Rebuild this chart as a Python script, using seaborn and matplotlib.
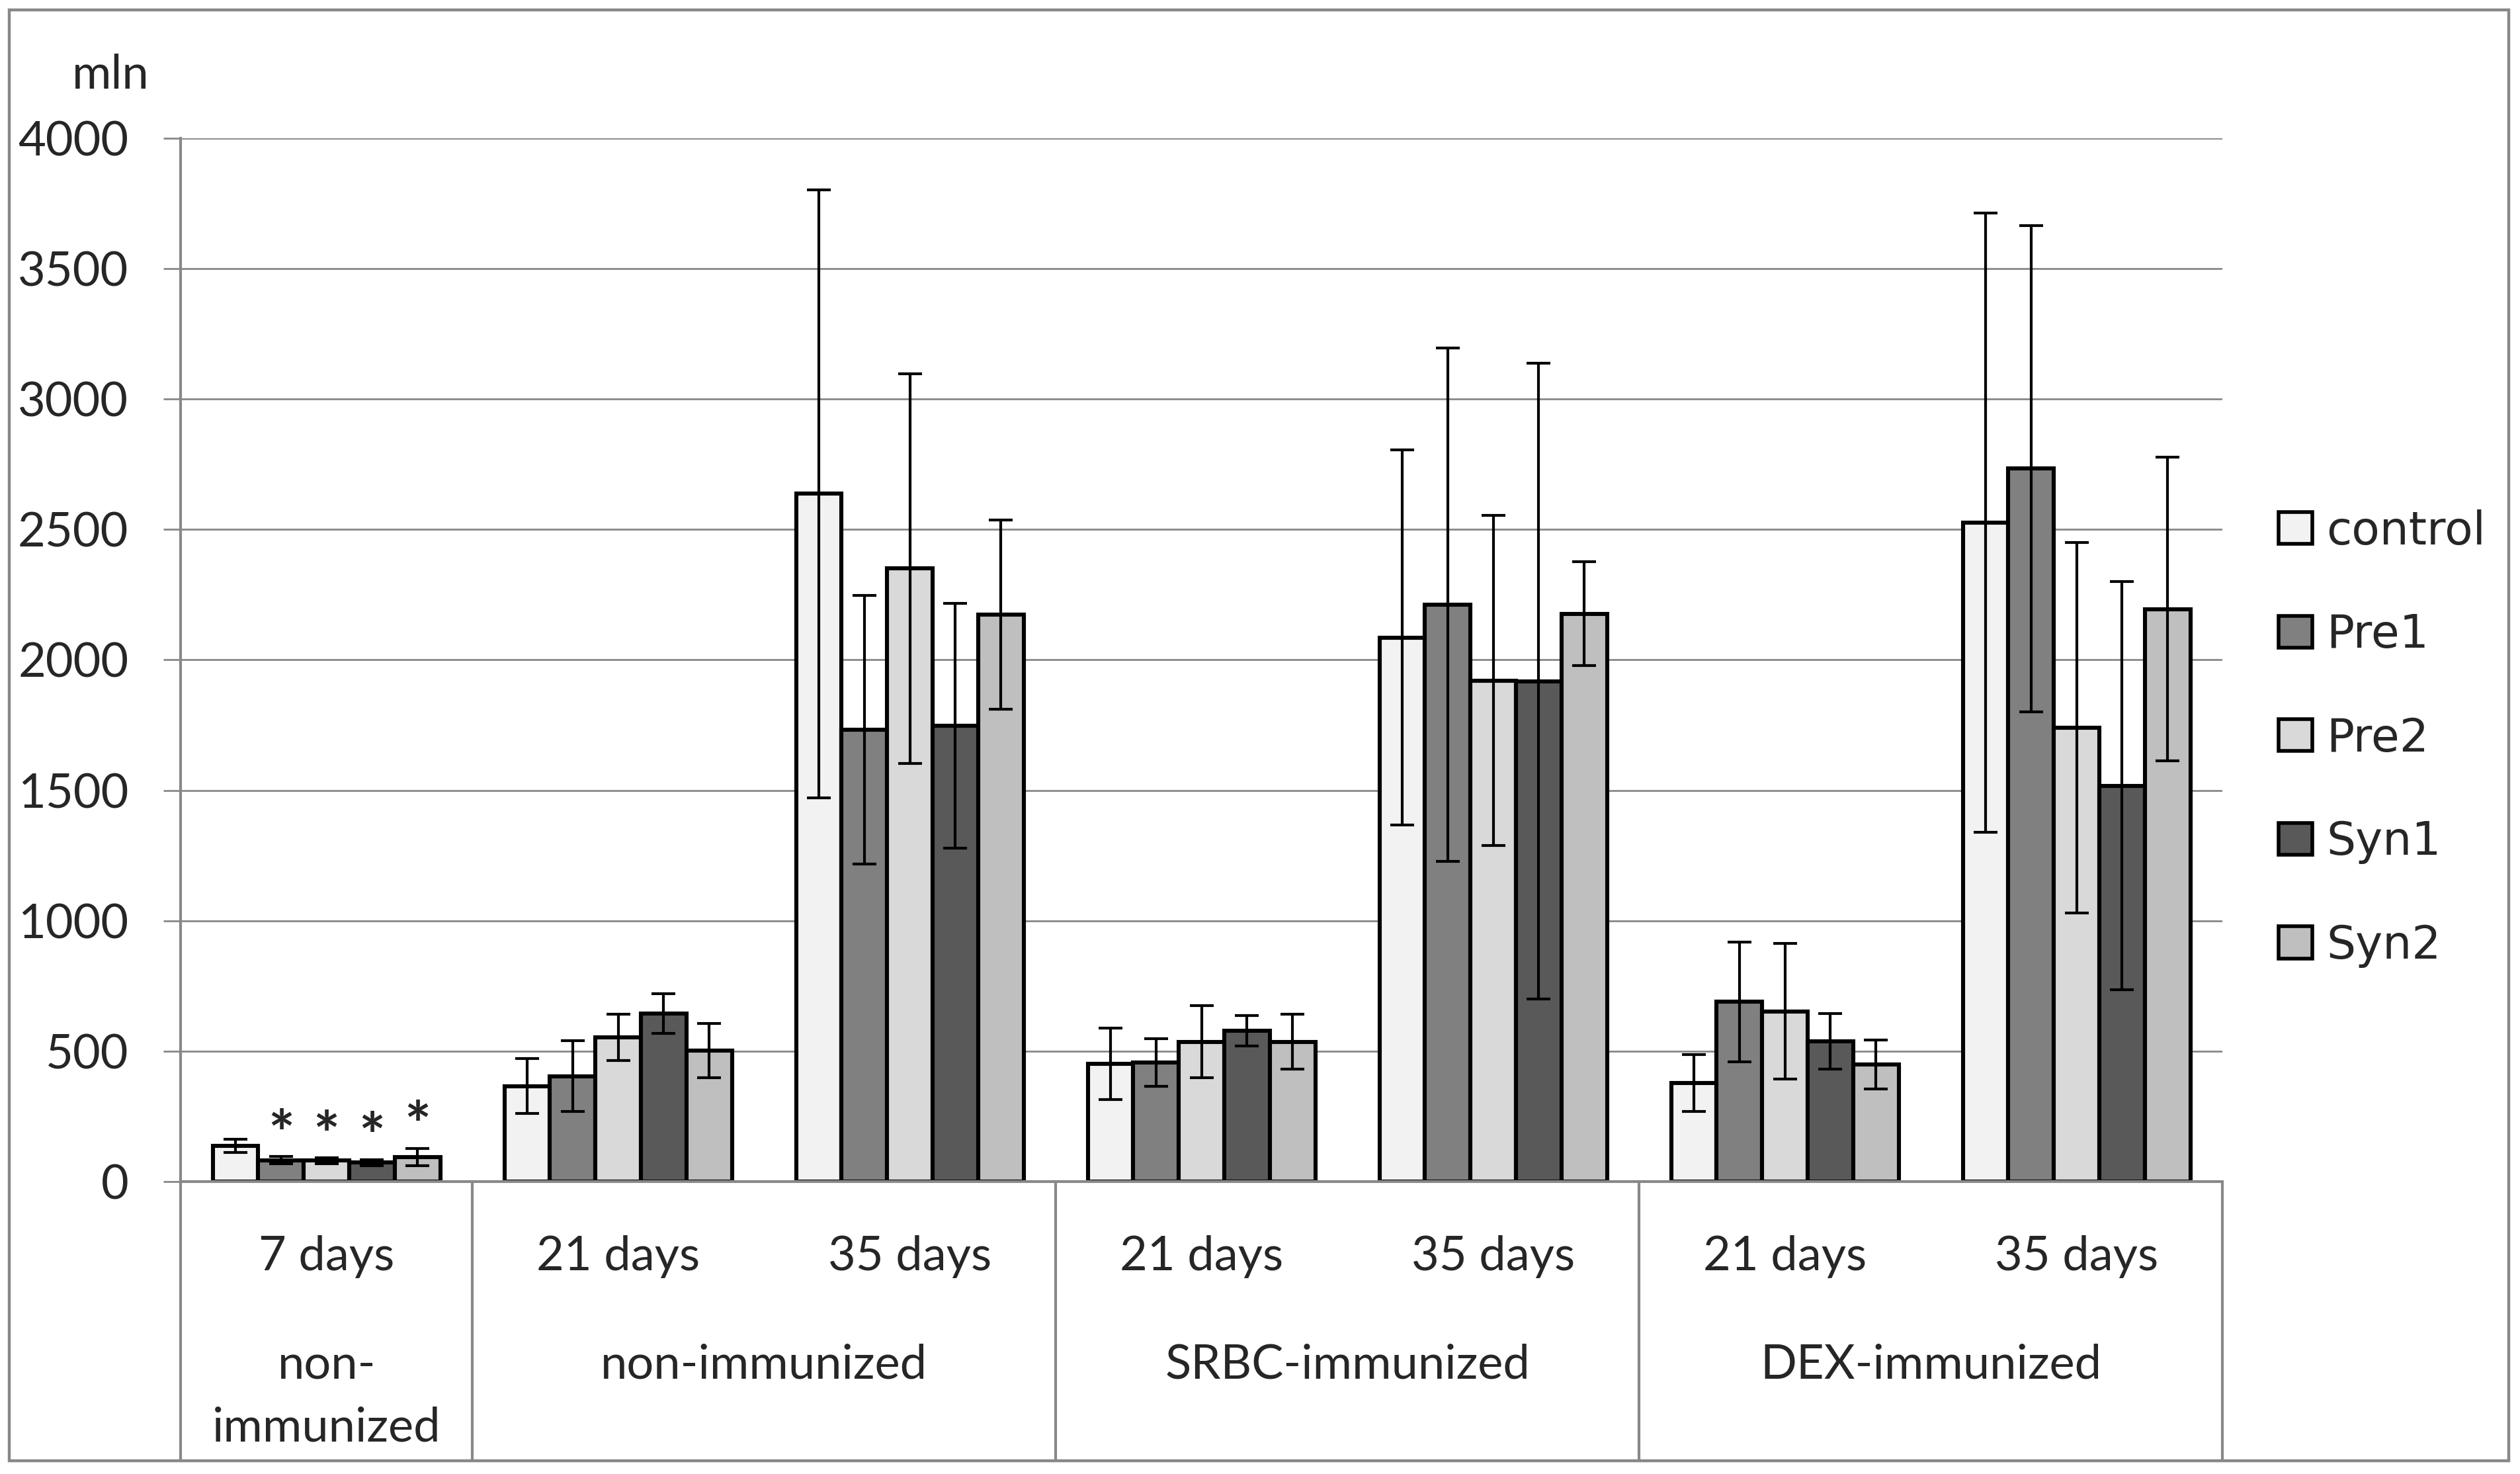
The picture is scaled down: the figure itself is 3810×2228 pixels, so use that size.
import numpy as np
import pandas as pd
import seaborn as sns
import matplotlib.pyplot as plt
import matplotlib.patches as mpatches

# values (mln cells), mean and SD per group
series = ['control', 'Pre1', 'Pre2', 'Syn1', 'Syn2']
colors = ['#F2F2F2', '#808080', '#D9D9D9', '#595959', '#BFBFBF']

x_keys = ['ni7', 'ni21', 'ni35', 'srbc21', 'srbc35', 'dex21', 'dex35']
day_labels = ['7 days', '21 days', '35 days', '21 days', '35 days', '21 days', '35 days']
group_labels = ['non-\nimmunized', 'non-immunized', 'SRBC-immunized', 'DEX-immunized']
group_centers = [0, 1.5, 3.5, 5.5]
group_edges = [-0.5, 0.5, 2.5, 4.5, 6.5]

control_mean = [136, 366, 2637, 452, 2086, 379, 2526]
control_sd = [25, 105, 1165, 137, 719, 109, 1187]
pre1_mean = [82, 404, 1732, 456, 2211, 689, 2733]
pre1_sd = [14, 135, 515, 91, 984, 230, 932]
pre2_mean = [80, 553, 2350, 536, 1921, 653, 1740]
pre2_sd = [11, 88, 747, 139, 633, 259, 711]
syn1_mean = [73, 644, 1748, 579, 1918, 538, 1518]
syn1_sd = [11, 77, 470, 58, 1219, 106, 782]
syn2_mean = [94, 502, 2174, 536, 2177, 449, 2195]
syn2_sd = [33, 105, 363, 105, 199, 94, 582]

# significance marks on 7 days group (series index)
star_series = [1, 2, 3, 4]

means = [control_mean, pre1_mean, pre2_mean, syn1_mean, syn2_mean]
sds = [control_sd, pre1_sd, pre2_sd, syn1_sd, syn2_sd]

rows = []
for s, m, e in zip(series, means, sds):
    for k, v, d in zip(x_keys, m, e):
        rows.append({'x': k, 'series': s, 'value': v, 'sd': d})
df = pd.DataFrame(rows)

sns.set_style('white')
plt.rcParams['font.family'] = ['Lato', 'DejaVu Sans']

grid_col = '#888888'

fig = plt.figure(figsize=(19.05, 11.14), dpi=200)
ax = fig.add_axes([0.0717, 0.1984, 0.8102, 0.7078])

sns.barplot(data=df, x='x', y='value', hue='series', order=x_keys, hue_order=series,
            palette=colors, width=0.78, gap=0, edgecolor='black', linewidth=2.2,
            errorbar=None, saturation=1, ax=ax, legend=False)

bar_conts = list(ax.containers)

# error bars from the bar positions
for i, cont in enumerate(bar_conts):
    xs = [b.get_x() + b.get_width() / 2 for b in cont]
    ys = [b.get_height() for b in cont]
    ax.errorbar(xs, ys, yerr=sds[i], fmt='none', ecolor='black', elinewidth=1.5,
                capsize=6.5, capthick=1.5, zorder=5)

# stars above 7 days bars
for i in star_series:
    b = bar_conts[i][0]
    top = b.get_height() + sds[i][0]
    ax.text(b.get_x() + b.get_width() / 2, top + 75, '*', ha='center', va='center',
            fontsize=34, fontweight='bold', zorder=6)

ax.set_xlim(-0.5, 6.5)
ax.set_ylim(0, 4000)
ax.set_yticks(np.arange(0, 4001, 500))
ax.yaxis.grid(True, color=grid_col, linewidth=1.0)
ax.set_axisbelow(True)
ax.tick_params(axis='y', which='major', length=9.4, width=1.0, color=grid_col,
               pad=19, labelsize=26, left=True)
ax.tick_params(axis='x', length=0, labelbottom=False)
ax.set_xlabel('')
ax.set_ylabel('')

for side in ['top', 'right']:
    ax.spines[side].set_visible(False)
for side in ['left', 'bottom']:
    ax.spines[side].set_color(grid_col)
    ax.spines[side].set_linewidth(1.5)

trans = ax.get_xaxis_transform()
for xe in group_edges:
    ax.plot([xe, xe], [0, -0.2676], transform=trans, color=grid_col, lw=1.5,
            clip_on=False)

for xi, lab in enumerate(day_labels):
    ax.text(xi, -0.0723, lab, transform=trans, ha='center', va='center', fontsize=26)
for xc, lab in zip(group_centers, group_labels):
    if '\n' in lab:
        ax.text(xc, -0.206, lab, transform=trans, ha='center', va='center',
                fontsize=26, linespacing=1.55)
    else:
        ax.text(xc, -0.1757, lab, transform=trans, ha='center', va='center', fontsize=26)

fig.text(0.0438, 0.949, 'mln', ha='center', va='center', fontsize=26)

handles = [mpatches.Patch(facecolor=c, edgecolor='black', linewidth=2.0) for c in colors]
fig.legend(handles, series, loc='center left', bbox_to_anchor=(0.9042, 0.499),
           frameon=False, prop={'family': 'DejaVu Sans', 'size': 25},
           handlelength=0.74, handleheight=0.69, handletextpad=0.3,
           labelspacing=1.29, borderpad=0, borderaxespad=0)

fig.add_artist(mpatches.Rectangle((0.0037, 0.009), 0.9918, 0.9843, transform=fig.transFigure,
                                  fill=False, edgecolor=grid_col, linewidth=1.6))

fig.savefig('out.png', dpi=200, facecolor='white')
